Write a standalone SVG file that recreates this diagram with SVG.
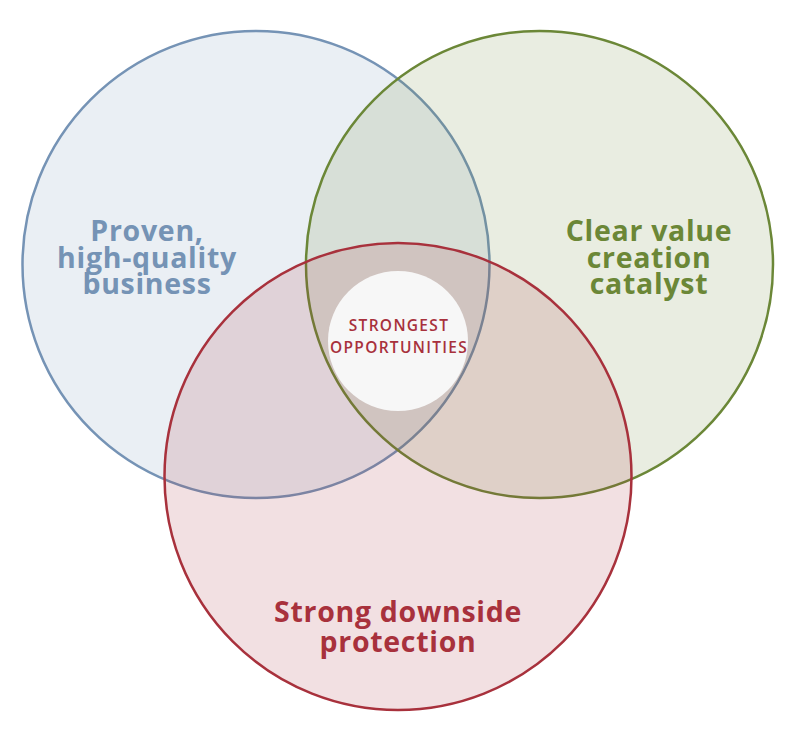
<svg xmlns="http://www.w3.org/2000/svg" width="811" height="737" viewBox="0 0 811 737">
<style>
.c{stroke-width:2.5}
.lbl{font-family:"Open Sans","DejaVu Sans",sans-serif;font-weight:700;text-anchor:middle}
.big{font-size:28.5px;letter-spacing:0.7px}
.small{font-size:15.5px;font-weight:600;letter-spacing:1.3px;fill:#a8313c}
</style>
<rect width="811" height="737" fill="#ffffff"/>
<g id="node-quality">
<circle class="c" cx="256" cy="264.5" r="233.5" fill="#7593b5" fill-opacity="0.15" stroke="#7593b5"/>
</g>
<g id="node-catalyst">
<circle class="c" cx="539.5" cy="264.5" r="233.5" fill="#6b8737" fill-opacity="0.15" stroke="#6b8737"/>
</g>
<g id="node-downside">
<circle class="c" cx="398" cy="476.5" r="233.5" fill="#a8313c" fill-opacity="0.15" stroke="#a8313c"/>
</g>
<g id="node-strongest">
<circle cx="398" cy="341" r="70" fill="#f7f7f7"/>
<text class="lbl small" x="399" y="331">STRONGEST</text>
<text class="lbl small" x="399" y="353">OPPORTUNITIES</text>
</g>
<g id="labels">
<text class="lbl big" fill="#7593b5"><tspan x="147" y="241">Proven,</tspan><tspan x="147" y="268">high-quality</tspan><tspan x="147" y="294">business</tspan></text>
<text class="lbl big" fill="#6b8737"><tspan x="649" y="241">Clear value</tspan><tspan x="649" y="268">creation</tspan><tspan x="649" y="294">catalyst</tspan></text>
<text class="lbl big" fill="#a8313c"><tspan x="398" y="622">Strong downside</tspan><tspan x="398" y="652">protection</tspan></text>
</g>
<g id="connectors"/>
</svg>
